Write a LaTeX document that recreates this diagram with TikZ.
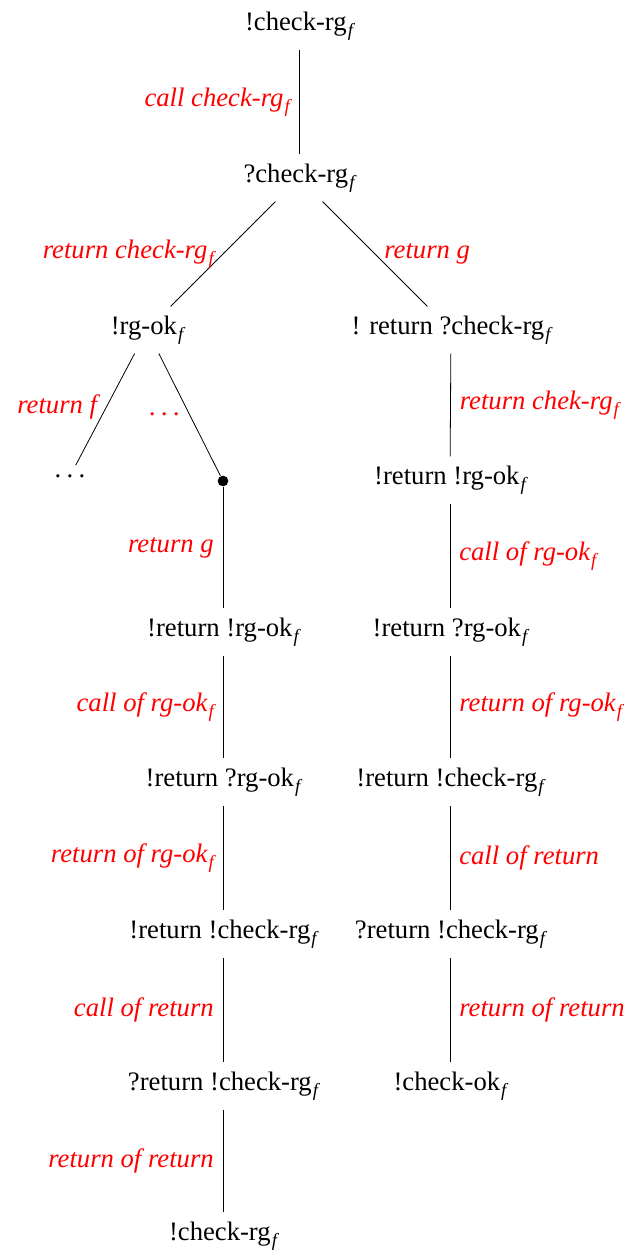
\documentclass[tikz,border=0pt]{standalone}
\usepackage{fontspec}
\setmainfont{Liberation Serif}
\newcommand{\sbf}{\kern0.4pt\raisebox{-0.5ex}{\fontsize{7}{8}\selectfont\itshape f}}
\newcommand{\spdots}{.\kern2pt.\kern2pt.}
\begin{document}
\begin{tikzpicture}[x=0.375pt,y=-0.375pt,
  st/.style={font=\fontsize{10}{12}\selectfont},
  lbl/.style={font=\fontsize{10}{12}\selectfont\itshape, text=red},
  dotnode/.style={circle, fill=black, inner sep=0pt, minimum size=4pt},
  every path/.style={line width=0.3pt}]
\useasboundingbox (0,-4) rectangle (630,1246);
% nodes
\node[st] (A) at (299,22) {!check-rg\sbf};
\node[st] (B) at (299,174) {?check-rg\sbf};
\node[st] (C) at (147,326) {!rg-ok\sbf};
\node[st] (D) at (451,326) {! return ?check-rg\sbf};
\node[st] (E) at (70,472) {\spdots};
\node[dotnode] (F) at (223,477) {};
\node[st] (G) at (450,476) {!return !rg-ok\sbf};
\node[st] (H) at (223,628) {!return !rg-ok\sbf};
\node[st] (I) at (223,778) {!return ?rg-ok\sbf};
\node[st] (J) at (223,930) {!return !check-rg\sbf};
\node[st] (K) at (223,1082) {?return !check-rg\sbf};
\node[st] (L) at (223,1232) {!check-rg\sbf};
\node[st] (M) at (450,628) {!return ?rg-ok\sbf};
\node[st] (N) at (450,778) {!return !check-rg\sbf};
\node[st] (O) at (450,930) {?return !check-rg\sbf};
\node[st] (P) at (450,1082) {!check-ok\sbf};
% edges
\draw (A) -- node[lbl, left] {call check-rg\sbf} (B);
\draw (B) -- node[lbl, left] {return check-rg\sbf} (C);
\draw (B) -- node[lbl, right] {return g} (D);
\draw (C) -- node[lbl, pos=0.48, left] {return f} (E);
\draw (C) -- node[lbl, pos=0.5, left] {\spdots} (F);
\draw (F) -- node[lbl, left] {return g} (H);
\draw (H) -- node[lbl, left] {call of rg-ok\sbf} (I);
\draw (I) -- node[lbl, left] {return of rg-ok\sbf} (J);
\draw (J) -- node[lbl, left] {call of return} (K);
\draw (K) -- node[lbl, left] {return of return} (L);
\draw (D) -- node[lbl, right] {return chek-rg\sbf} (G);
\draw (G) -- node[lbl, right] {call of rg-ok\sbf} (M);
\draw (M) -- node[lbl, right] {return of rg-ok\sbf} (N);
\draw (N) -- node[lbl, right] {call of return} (O);
\draw (O) -- node[lbl, right] {return of return} (P);
\end{tikzpicture}
\end{document}
